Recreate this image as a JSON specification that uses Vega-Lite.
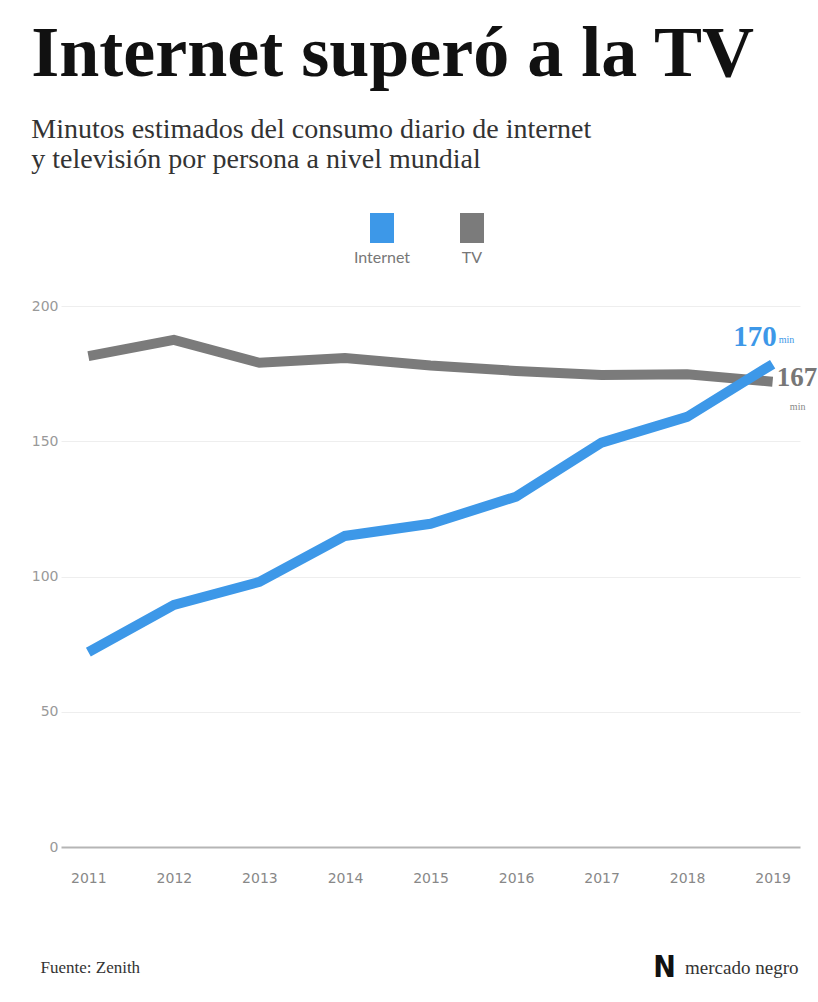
{
  "$schema": "https://vega.github.io/schema/vega-lite/v6.json",
  "width": 739,
  "height": 541,
  "padding": {"left": 31, "top": 18, "right": 0, "bottom": 0},
  "background": "white",
  "title": {
    "text": "Internet superó a la TV",
    "subtitle": ["Minutos estimados del consumo diario de internet", "y televisión por persona a nivel mundial"],
    "anchor": "start",
    "font": "Liberation Serif",
    "fontSize": 72,
    "fontWeight": "bold",
    "color": "#111111",
    "subtitleFont": "Liberation Serif",
    "subtitleFontSize": 28,
    "subtitleColor": "#333333",
    "subtitleLineHeight": 30,
    "subtitlePadding": 25,
    "offset": 38
  },
  "datasets": {
    "main": [
      {"year": "2011", "series": "TV", "value": 181.5},
      {"year": "2012", "series": "TV", "value": 187.5},
      {"year": "2013", "series": "TV", "value": 179},
      {"year": "2014", "series": "TV", "value": 180.8},
      {"year": "2015", "series": "TV", "value": 178},
      {"year": "2016", "series": "TV", "value": 176},
      {"year": "2017", "series": "TV", "value": 174.5},
      {"year": "2018", "series": "TV", "value": 174.8},
      {"year": "2019", "series": "TV", "value": 172},
      {"year": "2011", "series": "Internet", "value": 72},
      {"year": "2012", "series": "Internet", "value": 89.5},
      {"year": "2013", "series": "Internet", "value": 98},
      {"year": "2014", "series": "Internet", "value": 115},
      {"year": "2015", "series": "Internet", "value": 119.5},
      {"year": "2016", "series": "Internet", "value": 129.5},
      {"year": "2017", "series": "Internet", "value": 149.5},
      {"year": "2018", "series": "Internet", "value": 159},
      {"year": "2019", "series": "Internet", "value": 178.5}
    ],
    "ends": [
      {"year": "2019", "series": "Internet", "value": 178.5, "label": "170", "unit": "min"},
      {"year": "2019", "series": "TV", "value": 172, "label": "167", "unit": "min"}
    ]
  },
  "resolve": {"axis": {"x": "independent"}},
  "layer": [
    {
      "data": {"name": "main"},
      "mark": {"type": "line", "strokeWidth": 10, "strokeCap": "butt", "strokeJoin": "miter"},
      "encoding": {
        "x": {
          "field": "year", "type": "ordinal",
          "scale": {"type": "point", "padding": 0.32},
          "axis": {
            "orient": "bottom", "labelAngle": 0, "ticks": false, "tickSize": 0, "domain": false, "grid": false,
            "labelFont": "DejaVu Sans", "labelFontSize": 14, "labelColor": "#888888", "labelPadding": 24,
            "title": "Fuente: Zenith", "titleFont": "Liberation Serif", "titleFontSize": 17, "titleFontWeight": "normal",
            "titleColor": "#333333", "titleX": -21, "titleY": 120, "titleAlign": "left", "titleBaseline": "middle"
          }
        },
        "y": {
          "field": "value", "type": "quantitative",
          "scale": {"domain": [0, 200], "nice": false},
          "axis": {
            "values": [0, 50, 100, 150, 200], "title": null, "ticks": false, "tickSize": 0, "domain": false,
            "labelFont": "DejaVu Sans", "labelFontSize": 14, "labelColor": "#999999", "labelPadding": 3,
            "gridColor": {"condition": {"test": "datum.value === 0", "value": "#b5b5b5"}, "value": "#eeeeee"},
            "gridWidth": {"condition": {"test": "datum.value === 0", "value": 2}, "value": 1}
          }
        },
        "color": {
          "field": "series", "type": "nominal",
          "scale": {"domain": ["Internet", "TV"], "range": ["#3d98e8", "#7b7b7b"]},
          "legend": {
            "orient": "none", "legendX": 306, "legendY": -93, "direction": "horizontal", "title": null,
            "symbolType": "M-0.8,-1H0.8V1H-0.8Z", "symbolSize": 900, "symbolStrokeWidth": 0,
            "labelFont": "Lato", "labelFontSize": 16, "labelColor": "#777777",
            "labelAlign": "center", "labelBaseline": "middle", "labelOffset": -15,
            "columnPadding": 46,
            "encode": {
              "symbols": {"update": {"fill": {"scale": "color", "field": "value"}, "fillOpacity": {"value": 1}, "strokeWidth": {"value": 0}}},
              "labels": {"update": {"dy": {"value": 30}}}
            }
          }
        }
      }
    },
    {
      "data": {"name": "ends"},
      "transform": [{"filter": "datum.series === 'Internet'"}],
      "mark": {"type": "text", "font": "Liberation Serif", "fontWeight": "bold", "fontSize": 29, "color": "#3d98e8", "align": "right", "baseline": "middle", "dx": 4, "dy": -27},
      "encoding": {
        "x": {"field": "year", "type": "ordinal", "axis": {
          "orient": "bottom", "labels": false, "ticks": false, "domain": false, "grid": false,
          "title": "N", "titleFont": "DejaVu Sans Condensed", "titleFontWeight": "bold", "titleFontSize": 30, "titleColor": "#111111",
          "titleX": 603, "titleY": 120, "titleAlign": "center", "titleBaseline": "middle"
        }},
        "y": {"field": "value", "type": "quantitative"},
        "text": {"field": "label"}
      }
    },
    {
      "data": {"name": "ends"},
      "transform": [{"filter": "datum.series === 'Internet'"}],
      "mark": {"type": "text", "font": "Liberation Serif", "fontSize": 10, "color": "#3d98e8", "align": "left", "baseline": "middle", "dx": 6, "dy": -24},
      "encoding": {
        "x": {"field": "year", "type": "ordinal", "axis": {
          "orient": "bottom", "labels": false, "ticks": false, "domain": false, "grid": false,
          "title": "mercado negro", "titleFont": "Liberation Serif", "titleFontWeight": "normal", "titleFontSize": 19, "titleColor": "#333333",
          "titleX": 737, "titleY": 120, "titleAlign": "right", "titleBaseline": "middle"
        }},
        "y": {"field": "value", "type": "quantitative"},
        "text": {"field": "unit"}
      }
    },
    {
      "data": {"name": "ends"},
      "transform": [{"filter": "datum.series === 'TV'"}],
      "mark": {"type": "text", "font": "Liberation Serif", "fontWeight": "bold", "fontSize": 27, "color": "#777777", "align": "left", "baseline": "middle", "dx": 4, "dy": -4},
      "encoding": {
        "x": {"field": "year", "type": "ordinal", "axis": null},
        "y": {"field": "value", "type": "quantitative"},
        "text": {"field": "label"}
      }
    },
    {
      "data": {"name": "ends"},
      "transform": [{"filter": "datum.series === 'TV'"}],
      "mark": {"type": "text", "font": "Liberation Serif", "fontSize": 10, "color": "#888888", "align": "center", "baseline": "middle", "dx": 25, "dy": 25},
      "encoding": {
        "x": {"field": "year", "type": "ordinal", "axis": null},
        "y": {"field": "value", "type": "quantitative"},
        "text": {"field": "unit"}
      }
    }
  ],
  "config": {
    "view": {"stroke": null},
    "legend": {"padding": 0}
  }
}
